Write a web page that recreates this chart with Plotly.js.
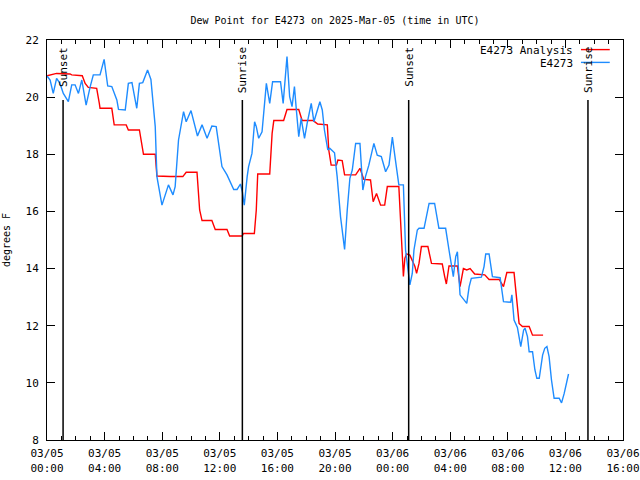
<!DOCTYPE html>
<html>
<head>
<meta charset="utf-8">
<script src="https://cdn.plot.ly/plotly-3.0.1.min.js"></script>
<style>html,body{margin:0;padding:0;background:#fff;}#chart{width:640px;height:480px;}</style>
</head>
<body>
<div id="chart"></div>
<script>
// ---- Data ----
const seriesNames = ["E4273 Analysis", "E4273"];

const obsTimes = [
"2025-03-05 00:00","2025-03-05 00:13","2025-03-05 00:26","2025-03-05 00:40","2025-03-05 00:54","2025-03-05 01:08",
"2025-03-05 01:29","2025-03-05 01:43","2025-03-05 01:57","2025-03-05 02:11","2025-03-05 02:25","2025-03-05 02:43",
"2025-03-05 03:00","2025-03-05 03:13","2025-03-05 03:41","2025-03-05 03:58","2025-03-05 04:13","2025-03-05 04:30",
"2025-03-05 04:51","2025-03-05 04:58","2025-03-05 05:26","2025-03-05 05:39","2025-03-05 05:54","2025-03-05 06:14",
"2025-03-05 06:25","2025-03-05 06:39","2025-03-05 06:59","2025-03-05 07:13","2025-03-05 07:31","2025-03-05 07:38",
"2025-03-05 07:59","2025-03-05 08:26","2025-03-05 08:45","2025-03-05 08:54","2025-03-05 09:08","2025-03-05 09:29",
"2025-03-05 09:40","2025-03-05 10:00","2025-03-05 10:27","2025-03-05 10:46","2025-03-05 11:07","2025-03-05 11:27",
"2025-03-05 11:45","2025-03-05 12:09","2025-03-05 12:30","2025-03-05 12:58","2025-03-05 13:12","2025-03-05 13:26",
"2025-03-05 13:34","2025-03-05 13:42","2025-03-05 13:54","2025-03-05 14:00","2025-03-05 14:14","2025-03-05 14:25",
"2025-03-05 14:32","2025-03-05 14:42","2025-03-05 14:56","2025-03-05 15:06","2025-03-05 15:14","2025-03-05 15:28",
"2025-03-05 15:40","2025-03-05 16:13","2025-03-05 16:24","2025-03-05 16:40","2025-03-05 16:51","2025-03-05 17:01",
"2025-03-05 17:11","2025-03-05 17:19","2025-03-05 17:29","2025-03-05 17:39","2025-03-05 17:53","2025-03-05 18:04",
"2025-03-05 18:21","2025-03-05 18:32","2025-03-05 18:42","2025-03-05 18:57","2025-03-05 19:07","2025-03-05 19:16",
"2025-03-05 19:30","2025-03-05 19:38","2025-03-05 19:58","2025-03-05 20:09","2025-03-05 20:23","2025-03-05 20:40",
"2025-03-05 20:51","2025-03-05 21:02","2025-03-05 21:12","2025-03-05 21:26","2025-03-05 21:44","2025-03-05 21:56",
"2025-03-05 22:07","2025-03-05 22:21","2025-03-05 22:42","2025-03-05 22:56","2025-03-05 23:13","2025-03-05 23:31",
"2025-03-05 23:45","2025-03-05 23:59","2025-03-06 00:08","2025-03-06 00:26","2025-03-06 00:45","2025-03-06 00:54",
"2025-03-06 01:12","2025-03-06 01:22","2025-03-06 01:29","2025-03-06 01:43","2025-03-06 01:50","2025-03-06 02:11",
"2025-03-06 02:32","2025-03-06 02:55","2025-03-06 03:13","2025-03-06 03:41","2025-03-06 03:55","2025-03-06 04:05",
"2025-03-06 04:13","2025-03-06 04:23","2025-03-06 04:30","2025-03-06 04:41","2025-03-06 05:09","2025-03-06 05:19",
"2025-03-06 05:28","2025-03-06 06:10","2025-03-06 06:21","2025-03-06 06:28","2025-03-06 06:42","2025-03-06 06:56",
"2025-03-06 07:28","2025-03-06 07:42","2025-03-06 08:12","2025-03-06 08:17","2025-03-06 08:26","2025-03-06 08:40",
"2025-03-06 08:54","2025-03-06 09:06","2025-03-06 09:12","2025-03-06 09:22","2025-03-06 09:29","2025-03-06 09:43",
"2025-03-06 09:53","2025-03-06 10:01","2025-03-06 10:11","2025-03-06 10:25","2025-03-06 10:34","2025-03-06 10:43",
"2025-03-06 10:52","2025-03-06 11:02","2025-03-06 11:13","2025-03-06 11:34","2025-03-06 11:44","2025-03-06 11:55",
"2025-03-06 12:06","2025-03-06 12:13"
];
const obsValues = [
20.74,20.6,20.13,20.66,20.48,20.13,
19.84,20.43,20.43,20.13,20.6,19.72,
20.37,20.78,20.78,21.32,20.39,20.37,
19.9,19.57,19.55,20.48,20.51,19.61,
20.48,20.51,20.95,20.62,18.97,17.22,
16.22,16.93,16.58,16.87,18.5,19.49,
19.14,19.53,18.64,19.03,18.56,18.99,
18.97,17.57,17.28,16.77,16.77,16.96,
16.69,16.22,17.22,17.57,18.03,19.14,
18.97,18.56,18.79,19.78,20.48,19.78,
20.54,20.54,19.78,21.42,20.02,19.67,
20.37,19.55,18.62,19.26,18.56,19.08,
19.78,19.14,19.43,19.84,19.55,18.85,
18.15,18.21,18.05,17.22,15.82,14.67,
16.05,17.16,17.45,18.38,18.38,16.75,
17.22,17.62,18.38,17.97,17.92,17.39,
17.62,18.6,18.03,16.93,16.93,14.65,
13.43,13.83,14.65,15.35,15.41,15.41,
16.28,16.28,15.41,15.41,14.65,14.18,
13.72,14.42,14.59,13.08,12.78,13.37,
13.66,13.7,14.07,14.51,14.51,13.72,
13.68,12.84,12.82,13.08,12.2,11.94,
11.27,11.85,11.91,11.62,11.09,11.09,
10.45,10.16,10.16,10.97,11.21,11.27,
10.92,10.1,9.46,9.46,9.3,9.63,
10.04,10.31
];

const anaTimes = [
"2025-03-05 00:00","2025-03-05 00:40","2025-03-05 01:36","2025-03-05 01:43","2025-03-05 02:27","2025-03-05 02:39",
"2025-03-05 02:52","2025-03-05 03:27","2025-03-05 03:38","2025-03-05 03:41","2025-03-05 04:30","2025-03-05 04:40",
"2025-03-05 05:30","2025-03-05 05:39","2025-03-05 06:25","2025-03-05 06:42","2025-03-05 07:31","2025-03-05 07:38",
"2025-03-05 08:33","2025-03-05 09:26","2025-03-05 09:40","2025-03-05 10:25","2025-03-05 10:36","2025-03-05 10:46",
"2025-03-05 11:27","2025-03-05 11:41","2025-03-05 12:30","2025-03-05 12:41","2025-03-05 13:33","2025-03-05 13:39",
"2025-03-05 14:24","2025-03-05 14:32","2025-03-05 14:38","2025-03-05 15:28","2025-03-05 15:38","2025-03-05 15:45",
"2025-03-05 16:26","2025-03-05 16:40","2025-03-05 17:29","2025-03-05 17:43","2025-03-05 18:29","2025-03-05 18:48",
"2025-03-05 19:28","2025-03-05 19:34","2025-03-05 19:44","2025-03-05 20:06","2025-03-05 20:12","2025-03-05 20:30",
"2025-03-05 20:40","2025-03-05 21:26","2025-03-05 21:44","2025-03-05 22:00","2025-03-05 22:28","2025-03-05 22:39",
"2025-03-05 22:53","2025-03-05 23:10","2025-03-05 23:27","2025-03-05 23:38","2025-03-06 00:26","2025-03-06 00:33",
"2025-03-06 00:41","2025-03-06 00:45","2025-03-06 00:51","2025-03-06 00:58","2025-03-06 01:12","2025-03-06 01:22",
"2025-03-06 01:33","2025-03-06 01:40","2025-03-06 01:50","2025-03-06 02:00","2025-03-06 02:27","2025-03-06 02:42",
"2025-03-06 03:27","2025-03-06 03:37","2025-03-06 03:44","2025-03-06 03:55","2025-03-06 04:30","2025-03-06 04:41",
"2025-03-06 04:55","2025-03-06 05:09","2025-03-06 05:23","2025-03-06 05:42","2025-03-06 06:24","2025-03-06 06:42",
"2025-03-06 07:24","2025-03-06 07:42","2025-03-06 07:56","2025-03-06 08:26","2025-03-06 08:38","2025-03-06 08:47",
"2025-03-06 09:01","2025-03-06 09:29","2025-03-06 09:43","2025-03-06 10:27"
];
const anaValues = [
20.75,20.83,20.81,20.78,20.75,20.48,
20.34,20.31,19.78,19.61,19.61,19.03,
19.03,18.85,18.85,18.0,18.0,17.24,
17.22,17.22,17.37,17.37,16.05,15.68,
15.68,15.37,15.37,15.14,15.14,15.23,
15.23,16.05,17.31,17.31,18.73,19.18,
19.18,19.57,19.57,19.18,19.18,19.06,
19.03,18.15,17.62,17.62,17.8,17.78,
17.28,17.28,17.51,17.12,17.1,16.34,
16.63,16.22,16.22,16.87,16.87,15.7,
14.18,13.72,14.36,14.51,14.47,14.3,
14.07,13.83,14.18,14.77,14.77,14.18,
14.16,13.72,13.46,14.09,14.09,13.37,
14.0,13.95,14.0,13.81,13.78,13.62,
13.62,13.37,13.86,13.86,12.78,12.08,
11.97,11.97,11.67,11.67
];

const sunEventTimes = ["2025-03-05 01:07","2025-03-05 13:34","2025-03-06 01:07","2025-03-06 13:34"];
const sunEventLabels = ["Sunset","Sunrise","Sunset","Sunrise"];

const xRange = ["2025-03-05 00:00","2025-03-06 16:00"];
const yRange = [8, 22];

// ---- Styles ----
const FONT = "DejaVu Sans Mono, Liberation Mono, monospace";
const FS = 10;
const colors = ["#ff0000", "#1e8cff"];

const traces = [
  {x: anaTimes, y: anaValues, name: seriesNames[0], type: "scatter", mode: "lines",
   line: {color: colors[0], width: 1.4}, showlegend: false},
  {x: obsTimes, y: obsValues, name: seriesNames[1], type: "scatter", mode: "lines",
   line: {color: colors[1], width: 1.4}, showlegend: false},
  // invisible trace on the top axis so its mirrored ticks are drawn
  {x: xRange, y: yRange, xaxis: "x2", yaxis: "y", type: "scatter", mode: "lines",
   line: {width: 0}, opacity: 0, showlegend: false, hoverinfo: "skip"}
];

const shapes = [];
const annotations = [];
sunEventTimes.forEach((t, i) => {
  shapes.push({type: "line", xref: "x", yref: "paper", x0: t, x1: t, y0: 0, y1: 0.85,
    line: {color: "#000", width: 1.5}});
  annotations.push({text: sunEventLabels[i], xref: "x", yref: "paper", x: t, y: 1,
    yshift: -5, xanchor: "center", yanchor: "top", textangle: -90, showarrow: false,
    font: {family: FONT, size: FS + 1, color: "#000"}});
});

// gnuplot-style legend: text right-aligned, line sample to its right
const legendRows = [0.973, 0.941];
seriesNames.forEach((n, i) => {
  annotations.push({text: n, xref: "paper", yref: "paper", x: 0.917, y: legendRows[i],
    xanchor: "right", yanchor: "middle", showarrow: false,
    font: {family: FONT, size: FS + 1, color: "#000"}});
  shapes.push({type: "line", xref: "paper", yref: "paper", x0: 0.927, x1: 0.977,
    y0: legendRows[i] + 0.003, y1: legendRows[i] + 0.003, line: {color: colors[i], width: 1.4}});
});

const xCommon = {type: "date", range: xRange, tick0: "2025-03-05 00:00", dtick: 4*3600000,
  ticks: "inside", ticklen: 8, tickwidth: 1, tickcolor: "#000",
  showline: true, linecolor: "#000", linewidth: 1, showgrid: false, zeroline: false,
  minor: {ticks: "inside", dtick: 3600000, ticklen: 4, tickcolor: "#000", showgrid: false},
  fixedrange: true};

const layout = {
  width: 640, height: 480,
  margin: {l: 47, r: 17, t: 40, b: 40, pad: 0},
  paper_bgcolor: "#fff", plot_bgcolor: "#fff",
  font: {family: FONT, size: FS, color: "#000"},
  title: {text: "Dew Point for E4273 on 2025-Mar-05 (time in UTC)",
    font: {family: FONT, size: FS, color: "#000"},
    x: 0.5, xref: "paper", y: 0.958, yref: "container", yanchor: "middle"},
  showlegend: false,
  xaxis: Object.assign({}, xCommon, {tickformat: "%m/%d<br>%H:%M",
    tickfont: {family: FONT, size: FS + 1}, ticklabelstandoff: 3}),
  xaxis2: Object.assign({}, xCommon, {overlaying: "x", side: "top", showticklabels: false}),
  yaxis: {range: yRange, dtick: 2, tick0: 8, ticks: "inside", ticklen: 8, tickcolor: "#000",
    showline: true, linecolor: "#000", linewidth: 1, mirror: "ticks", showgrid: false, zeroline: false,
    tickfont: {family: FONT, size: FS + 1}, ticklabelstandoff: 5,
    title: {text: "degrees F", font: {family: FONT, size: FS}, standoff: 13}},
  shapes: shapes,
  annotations: annotations
};

Plotly.newPlot("chart", traces, layout, {displayModeBar: false, staticPlot: true});
</script>
</body>
</html>
